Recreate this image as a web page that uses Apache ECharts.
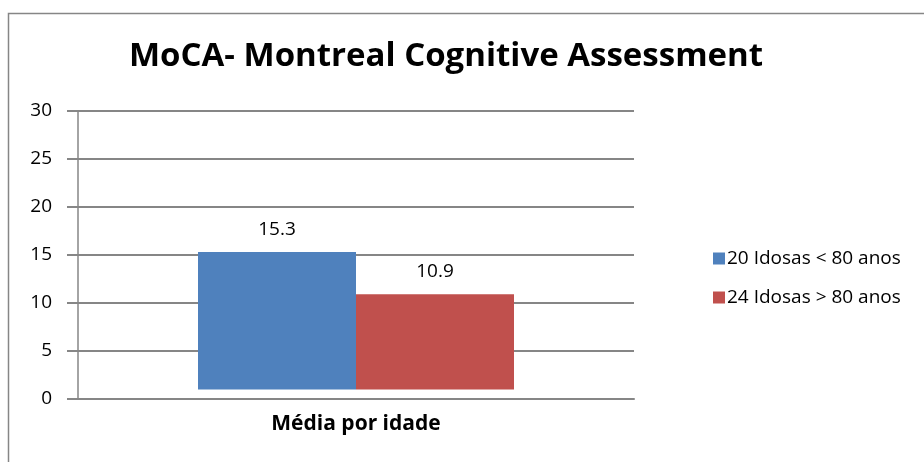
<!DOCTYPE html>
<html><head><meta charset="utf-8">
<script src="https://cdn.jsdelivr.net/npm/echarts@6/dist/echarts.min.js"></script>
<style>html,body{margin:0;padding:0;background:#fff}#c{width:924px;height:462px}</style>
</head><body><div id="c"></div>
<script>
const categories = ['Média por idade'];
const seriesNames = ['20 Idosas < 80 anos', '24 Idosas > 80 anos'];
const values1 = [15.3];
const values2 = [10.9];
const barBase = [1];
const yTicks = [0, 5, 10, 15, 20, 25, 30];
const colors = ['#4F81BD', '#C0504D'];

const chart = echarts.init(document.getElementById('c'));
const font = 'Open Sans';
function mk(name, vals, color, idx) {
  return [{
    name: '_base' + idx, type: 'bar', stack: 's' + idx, silent: true,
    data: barBase, itemStyle: { color: 'transparent' }, barWidth: 158, barGap: '0%',
    legendHoverLink: false
  }, {
    name: name, type: 'bar', stack: 's' + idx,
    data: vals.map((v, i) => v - barBase[i]),
    itemStyle: { color: color }, barWidth: 158, barGap: '0%',
    label: { show: true, position: 'top', distance: 13, color: '#000', fontFamily: font, fontSize: 19,
      formatter: p => vals[p.dataIndex].toFixed(1) }
  }];
}
chart.setOption({
  animation: false,
  textStyle: { fontFamily: font },
  graphic: [{ type: 'rect', shape: { x: 8.5, y: 13.5, width: 940, height: 480 },
    style: { fill: 'none', stroke: '#868686', lineWidth: 1.5 }, silent: true }],
  title: { text: 'MoCA- Montreal Cognitive Assessment', left: 124, top: 35,
    textStyle: { fontFamily: font, fontWeight: 'bold', fontSize: 33, color: '#000' } },
  legend: {
    data: seriesNames, orient: 'vertical', left: 708, top: 244, itemGap: 20,
    itemWidth: 12, itemHeight: 12, icon: 'rect',
    textStyle: { fontFamily: font, fontSize: 19, color: '#000', padding: [0, 0, 0, -3] }
  },
  grid: { left: 78, right: 924 - 634, top: 111, bottom: 462 - 399, containLabel: false },
  xAxis: { type: 'category', data: categories,
    axisLine: { lineStyle: { color: '#868686', width: 2 } }, axisTick: { show: false },
    axisLabel: { color: '#000', fontFamily: font, fontWeight: 'bold', fontSize: 21, margin: 15 } },
  yAxis: { type: 'value', min: yTicks[0], max: yTicks[yTicks.length - 1], interval: 5,
    axisLine: { show: true, lineStyle: { color: '#868686', width: 1.5 } },
    axisTick: { show: true, length: 11, lineStyle: { color: '#868686', width: 2 } },
    splitLine: { lineStyle: { color: '#868686', width: 2 } },
    axisLabel: { color: '#000', fontFamily: font, fontSize: 19, margin: 26 } },
  series: [...mk(seriesNames[0], values1, colors[0], 1), ...mk(seriesNames[1], values2, colors[1], 2)]
});
</script></body></html>
